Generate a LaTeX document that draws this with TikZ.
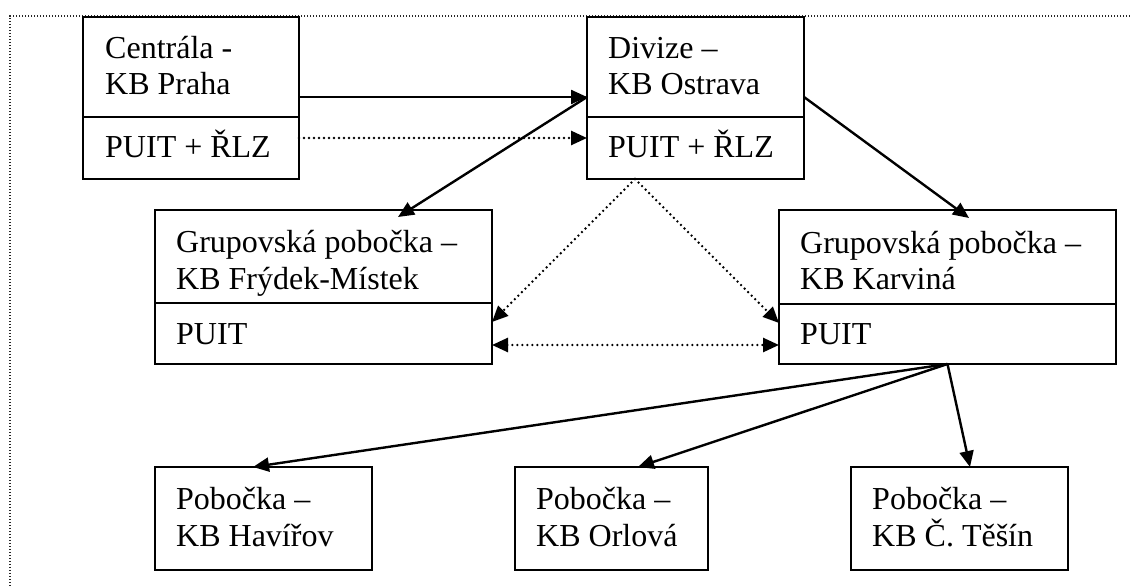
\documentclass[tikz,border=0pt]{standalone}
\usepackage{fontspec}
\setmainfont{Liberation Serif}
\usetikzlibrary{arrows.meta}
\begin{document}
\begin{tikzpicture}[x=1pt,y=-1pt,
  box/.style={draw=black, line width=2pt, rectangle, inner sep=0pt, outer sep=0pt, anchor=north west},
  lbl/.style={anchor=base west, inner sep=0pt, font=\fontsize{32}{36}\selectfont},
  solidarrow/.style={arrows={-Triangle[length=16pt,width=14pt]}, line width=2.4pt},
  dotarrow/.style={arrows={-Triangle[length=16pt,width=14pt]}, line width=2.6pt, line cap=round, dash pattern=on 0pt off 5pt},
  dotboth/.style={arrows={Triangle[length=16pt,width=14pt]-Triangle[length=16pt,width=14pt]}, line width=2.6pt, line cap=round, dash pattern=on 0pt off 5pt},
  frame/.style={line width=1.4pt, draw=black!85, dash pattern=on 1.3pt off 1.7pt}]
\useasboundingbox (0,0) rectangle (1130,588);
% outer dotted frame (only top and left visible)
\draw[frame] (1130,16) -- (10,16) -- (10,588);

% boxes
\node[box, minimum width=216pt, minimum height=100pt] (cenA) at (83,17) {};
\node[box, minimum width=216pt, minimum height=62pt] (cenB) at (83,117) {};
\node[box, minimum width=217pt, minimum height=100pt] (divA) at (587,17) {};
\node[box, minimum width=217pt, minimum height=62pt] (divB) at (587,117) {};
\node[box, minimum width=337pt, minimum height=93pt] (fryA) at (155,210) {};
\node[box, minimum width=337pt, minimum height=61pt] (fryB) at (155,303) {};
\node[box, minimum width=337pt, minimum height=94pt] (karA) at (779,210) {};
\node[box, minimum width=337pt, minimum height=60pt] (karB) at (779,304) {};
\node[box, minimum width=217pt, minimum height=103pt] (hav) at (155,467) {};
\node[box, minimum width=193pt, minimum height=103pt] (orl) at (515,467) {};
\node[box, minimum width=217pt, minimum height=103pt] (tes) at (851,467) {};

% texts
\node[lbl] (cenT1) at (105,59) {Centrála -};
\node[lbl] (cenT2) at (105,95) {KB Praha};
\node[lbl] (cenT3) at (105,158) {PUIT + ŘLZ};
\node[lbl] (divT1) at (608,59) {Divize –};
\node[lbl] (divT2) at (608,95) {KB Ostrava};
\node[lbl] (divT3) at (608,158) {PUIT + ŘLZ};
\node[lbl] (fryT1) at (176,253) {Grupovská pobočka –};
\node[lbl] (fryT2) at (176,289) {KB Frýdek-Místek};
\node[lbl] (fryT3) at (176,344) {PUIT};
\node[lbl] (karT1) at (800,254) {Grupovská pobočka –};
\node[lbl] (karT2) at (800,289) {KB Karviná};
\node[lbl] (karT3) at (800,344) {PUIT};
\node[lbl] (havT1) at (176,509) {Pobočka –};
\node[lbl] (havT2) at (176,546) {KB Havířov};
\node[lbl] (orlT1) at (536,509) {Pobočka –};
\node[lbl] (orlT2) at (536,546) {KB Orlová};
\node[lbl] (tesT1) at (872,509) {Pobočka –};
\node[lbl] (tesT2) at (872,546) {KB Č. Těšín};

% connectors
\draw[solidarrow] ([yshift=-30pt]cenA.east) -- ([yshift=-30pt]divA.west);
\draw[dotarrow] ([yshift=10pt]cenB.east) -- ([yshift=10pt]divB.west);
\draw[solidarrow] ([yshift=-30pt]divA.west) -- ([xshift=74.5pt,yshift=-7pt]fryA.north);
\draw[solidarrow] ([yshift=-30pt]divA.east) -- ([xshift=21.5pt,yshift=-8pt]karA.north);
\draw[dotarrow] ([xshift=-60.5pt]divB.south) -- ([yshift=11.5pt]fryB.east);
\draw[dotarrow] ([xshift=-60.5pt]divB.south) -- ([yshift=11pt]karB.west);
\draw[dotboth] ([yshift=-11.5pt]fryB.east) -- ([yshift=-11pt]karB.west);
\draw[solidarrow] (karB.south) -- ([xshift=-10.5pt]hav.north);
\draw[solidarrow] (karB.south) -- ([xshift=26.5pt]orl.north);
\draw[solidarrow] (karB.south) -- ([xshift=10.5pt]tes.north);
\end{tikzpicture}
\end{document}
